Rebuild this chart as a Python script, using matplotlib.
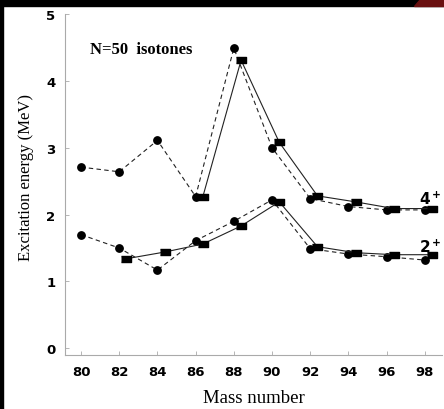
import numpy as np
import matplotlib.pyplot as plt
from matplotlib.patches import Rectangle, Polygon

# N=50 isotones: experimental (circles) vs calculated (squares)
mass_exp = [80, 82, 84, 86, 88, 90, 92, 94, 96, 98]
e4_exp = [2.71, 2.64, 3.11, 2.27, 4.49, 3.00, 2.24, 2.12, 2.07, 2.07]
e2_exp = [1.70, 1.50, 1.17, 1.61, 1.90, 2.22, 1.49, 1.41, 1.37, 1.32]

mass_th4 = [86, 88, 90, 92, 94, 96, 98]
e4_th = [2.27, 4.31, 3.08, 2.28, 2.19, 2.09, 2.09]
mass_th2 = [82, 84, 86, 88, 90, 92, 94, 96, 98]
e2_th = [1.34, 1.44, 1.56, 1.83, 2.19, 1.52, 1.43, 1.40, 1.40]

xticks = [80, 82, 84, 86, 88, 90, 92, 94, 96, 98]
yticks = [0, 1, 2, 3, 4, 5]

shift = 0.38  # squares drawn slightly to the right
rect = [(-1, -0.55), (1, -0.55), (1, 0.55), (-1, 0.55)]

fig = plt.figure(figsize=(4.44, 4.10), dpi=100)
ax = fig.add_axes([65 / 444, 54 / 410, 377 / 444, 341 / 410])

ax.plot(mass_exp, e4_exp, '--', color='#222222', lw=0.8, dashes=(4, 3),
        marker='o', ms=5.3, mfc='black', mec='black')
ax.plot(mass_exp, e2_exp, '--', color='#222222', lw=0.8, dashes=(4, 3),
        marker='o', ms=5.3, mfc='black', mec='black')
ax.plot(np.array(mass_th4) + shift, e4_th, '-', color='#222222', lw=0.8,
        marker=rect, ms=7.5, mfc='black', mec='black')
ax.plot(np.array(mass_th2) + shift, e2_th, '-', color='#222222', lw=0.8,
        marker=rect, ms=7.5, mfc='black', mec='black')

ax.set_xlim(79.16, 98.9)
ax.set_ylim(-0.1, 5.0)
ax.set_xticks(xticks)
ax.set_yticks(yticks)
for s in ['top', 'right']:
    ax.spines[s].set_visible(False)
for s in ['left', 'bottom']:
    ax.spines[s].set_color('#aaaaaa')
    ax.spines[s].set_linewidth(0.8)
ax.tick_params(direction='in', length=3, width=0.6, color='#aaaaaa',
               labelsize=9.5, pad=7)
for lab in ax.get_xticklabels() + ax.get_yticklabels():
    lab.set_fontweight('bold')
    lab.set_family('DejaVu Sans')

ax.set_xlabel('Mass number', family='Liberation Serif', fontsize=13.5, labelpad=8)
ax.set_ylabel('Excitation energy (MeV)', family='Liberation Serif', fontsize=12)
ax.yaxis.set_label_coords(-0.082, 0.523)

ax.text(80.45, 4.47, 'N=50  isotones', family='Liberation Serif', fontweight='bold',
        fontsize=12, va='center', ha='left')
ax.text(98.3, 2.16, r'$\mathbf{4^+}$', fontsize=11, ha='center', va='baseline')
ax.text(98.3, 1.44, r'$\mathbf{2^+}$', fontsize=11, ha='center', va='baseline')

# dark frame band along the top and left edge
fig.patches.append(Rectangle((0, 1 - 7 / 410), 1, 7 / 410, transform=fig.transFigure,
                             color='black', zorder=10))
fig.patches.append(Rectangle((0, 0), 3 / 444, 1, transform=fig.transFigure,
                             color='black', zorder=10))
fig.patches.append(Polygon([(420 / 444, 1), (1, 1), (1, 1 - 7 / 410), (414 / 444, 1 - 7 / 410)],
                           closed=True, transform=fig.transFigure, color='#6a1010',
                           zorder=11))

fig.savefig('out.png', dpi=100)
